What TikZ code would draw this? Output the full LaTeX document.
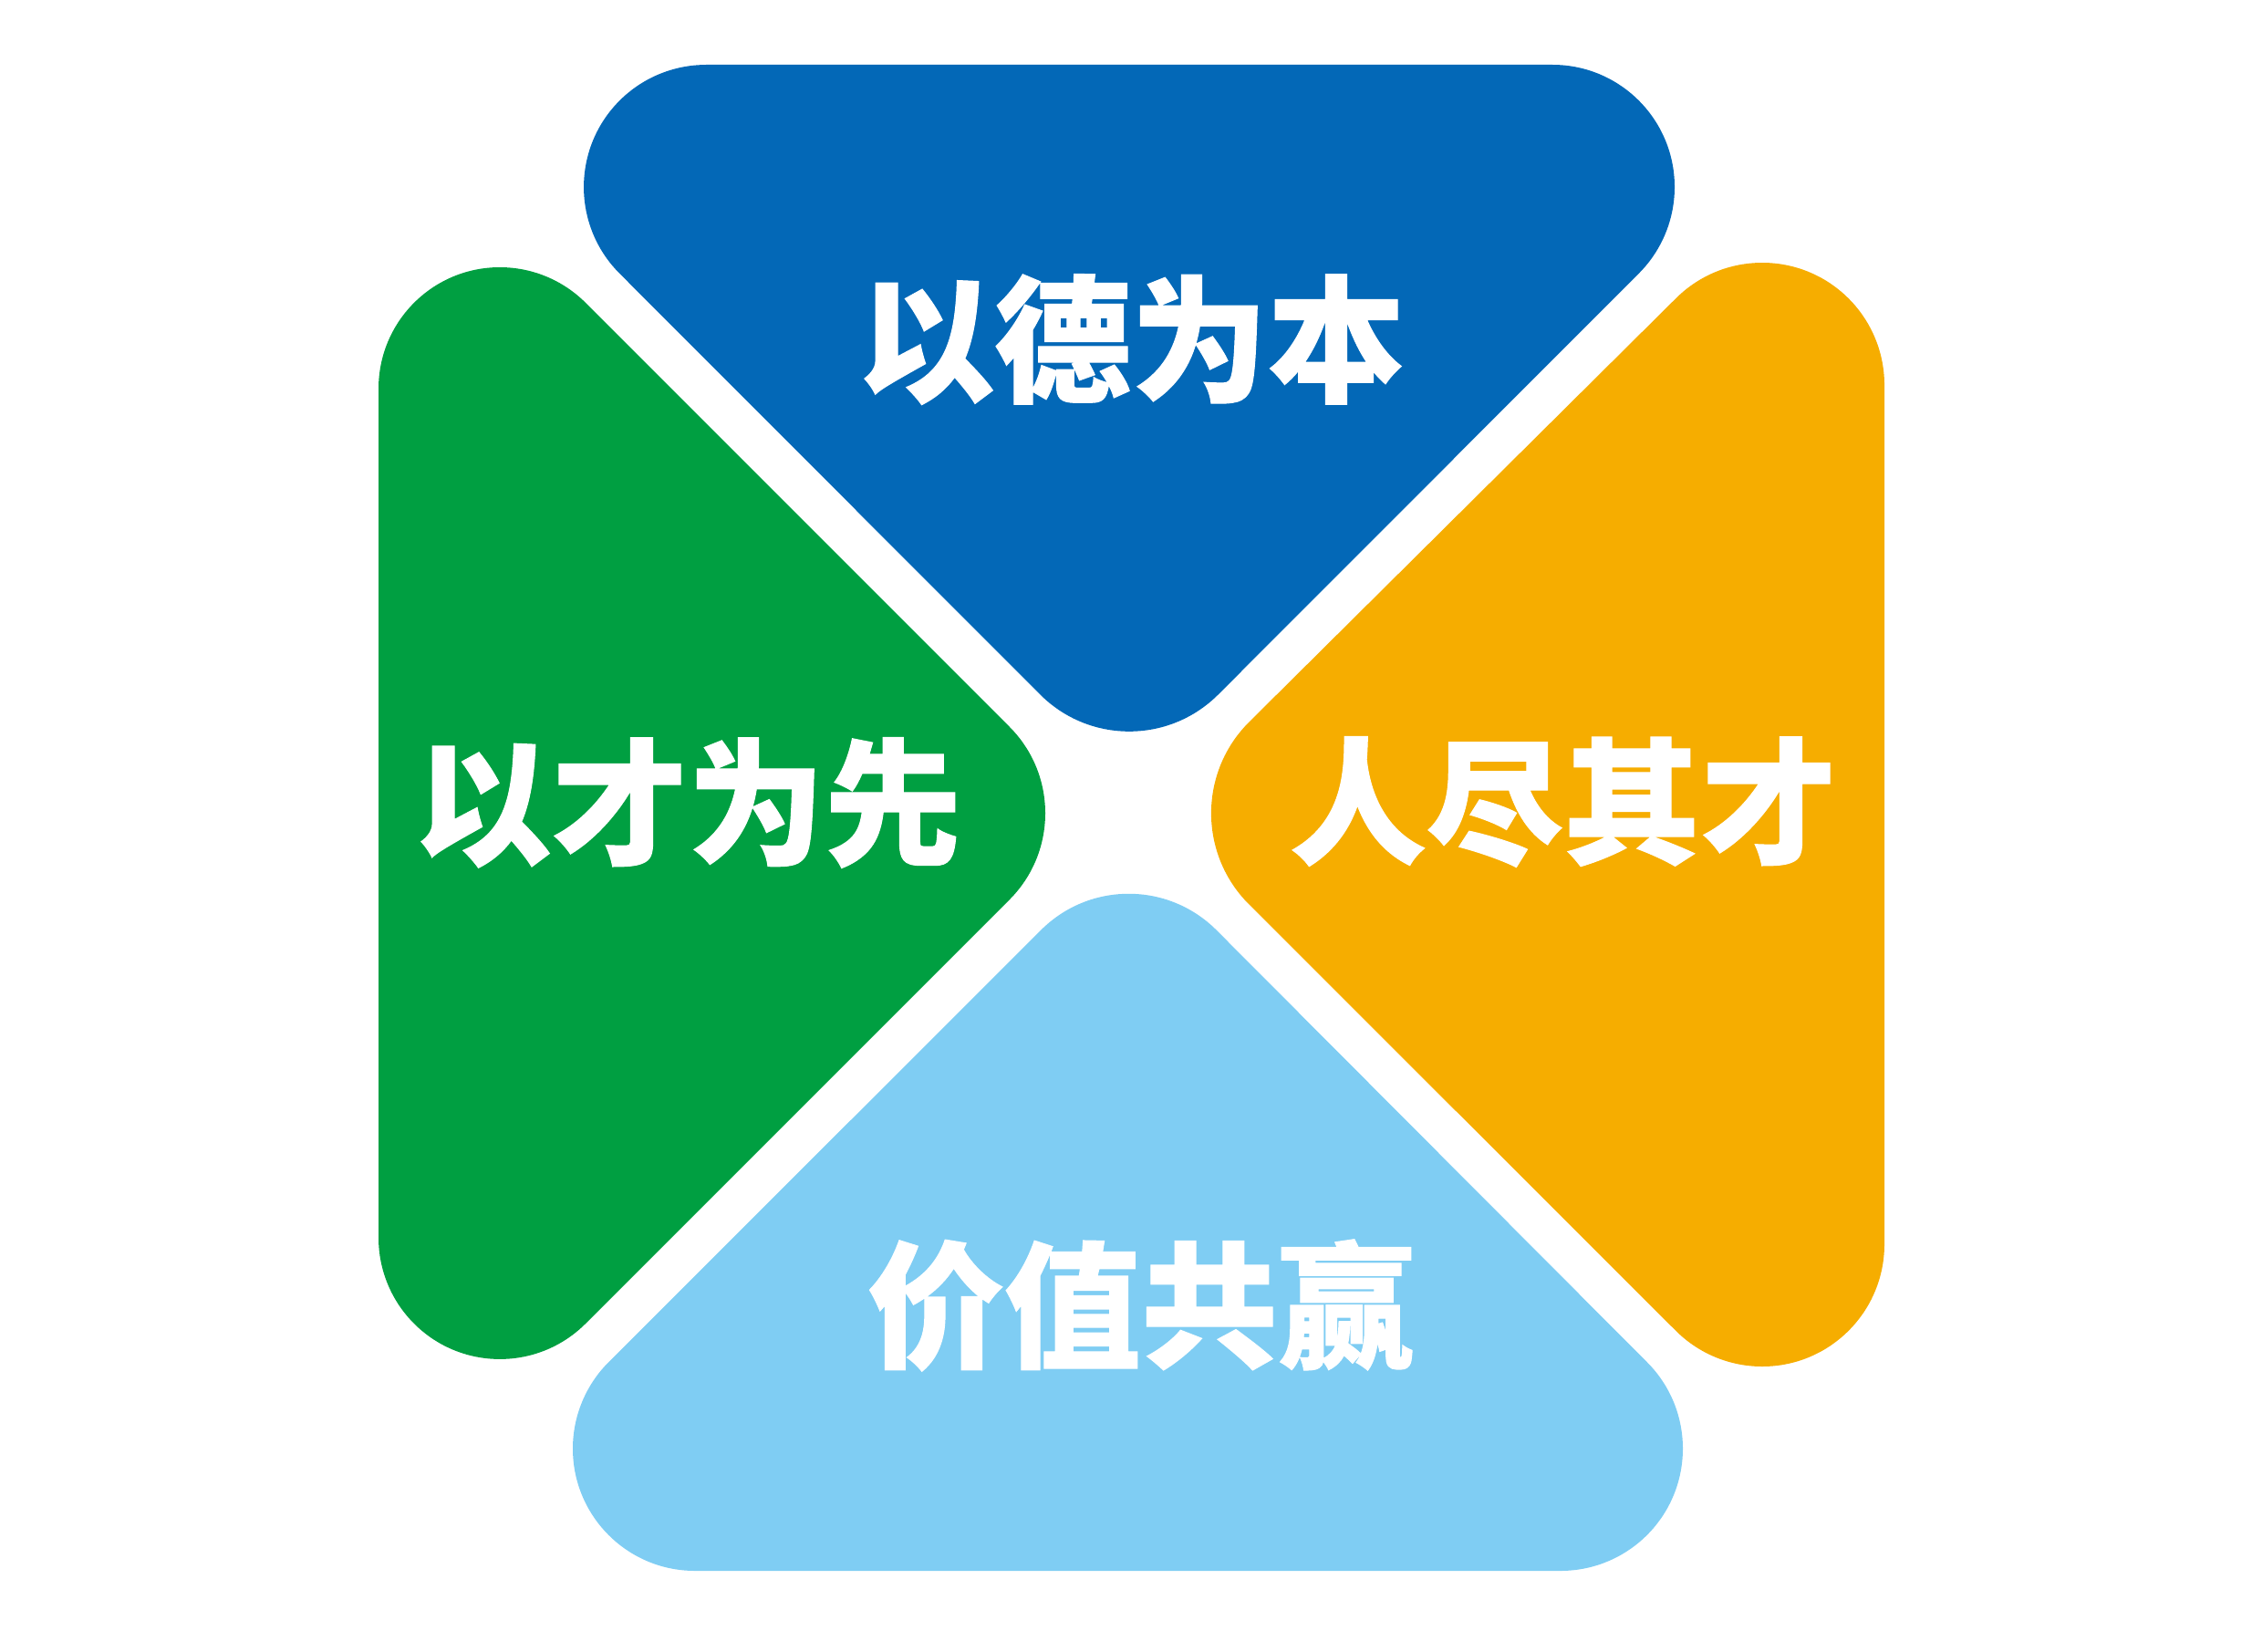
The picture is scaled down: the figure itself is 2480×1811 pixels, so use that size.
\documentclass[tikz,border=0pt]{standalone}
\usepackage{fontspec}
\newfontfamily\cjk{Noto Sans CJK SC}[BoldFeatures={FakeBold=0.7}]
\definecolor{cblue}{HTML}{0368B7}
\definecolor{cgreen}{HTML}{009F41}
\definecolor{corange}{HTML}{F6AD00}
\definecolor{clight}{HTML}{7FCDF3}
\tikzset{
  petal/.style={draw=none},
  lbl/.style={text=white, font=\cjk\bfseries\fontsize{150}{150}\selectfont, inner sep=0pt, anchor=center}
}
\begin{document}
\begin{tikzpicture}[x=1pt, y=-1pt]
\useasboundingbox (0,0) rectangle (2480,1811);
% top blue
\fill[cblue, petal] (774,71) -- (1702,71) arc[start angle=-90, end angle=45, radius=134]
  -- (1335.6,761.4) arc[start angle=45, end angle=135, radius=138]
  -- (679.3,299.8) arc[start angle=135, end angle=270, radius=134] -- cycle;
% left green
\fill[cgreen, petal] (415,1357) -- (415,426) arc[start angle=180, end angle=315, radius=133]
  -- (1106.75,796.75) arc[start angle=-45, end angle=45, radius=134]
  -- (642.05,1450.95) arc[start angle=45, end angle=180, radius=133] -- cycle;
% right orange
\fill[corange, petal] (1837.25,327.25) arc[start angle=225, end angle=360, radius=134]
  -- (2066,1364) arc[start angle=0, end angle=135, radius=134]
  -- (1369.2,991.2) arc[start angle=135, end angle=225, radius=141] -- cycle;
% bottom light blue
\fill[clight, petal] (1141.3,1019.6) arc[start angle=225, end angle=315, radius=136]
  -- (1805.75,1493.25) arc[start angle=-45, end angle=90, radius=134]
  -- (762,1722) arc[start angle=90, end angle=225, radius=134] -- cycle;
% labels
\node[lbl] (t1) at (1240,372) {以德为本};
\node[lbl] (t2) at (754,880) {以才为先};
\node[lbl] (t3) at (1714,879) {人尽其才};
\node[lbl] (t4) at (1251,1431) {价值共赢};
\end{tikzpicture}
\end{document}
